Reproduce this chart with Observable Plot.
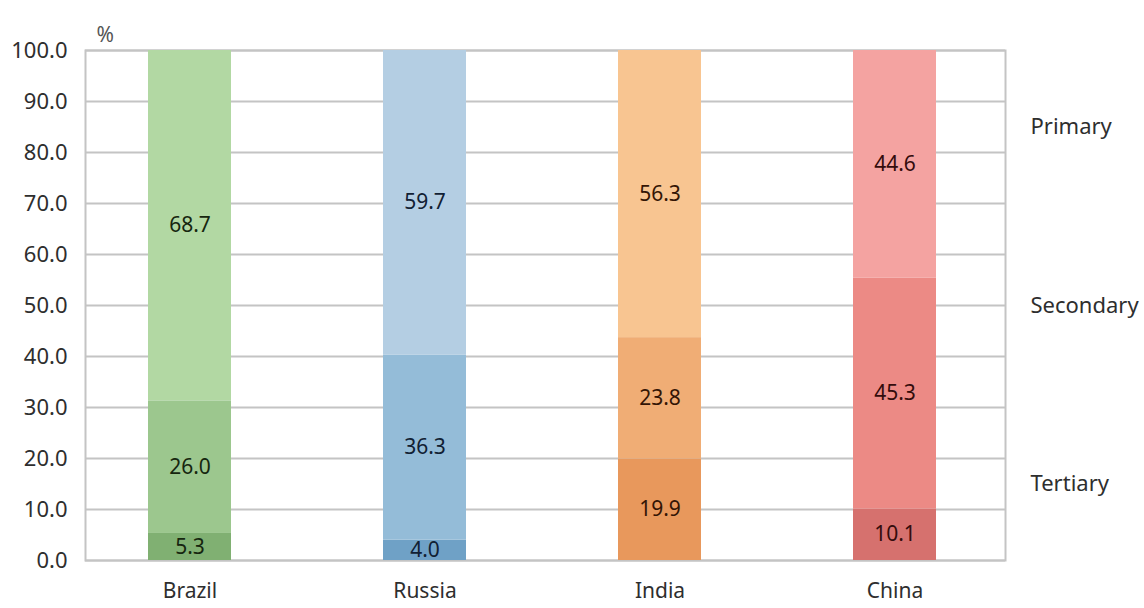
<!DOCTYPE html>
<html>
<head>
<meta charset="utf-8">
<script src="https://cdn.jsdelivr.net/npm/d3@7"></script>
<script src="https://cdn.jsdelivr.net/npm/@observablehq/plot@0.6"></script>
<style>
  html, body { margin: 0; padding: 0; background: #fff; }
  #chart { width: 1144px; height: 608px; }
</style>
</head>
<body>
<div id="chart"></div>
<script>
// Data (bottom segment first)
const countries = ["Brazil", "Russia", "India", "China"];
const tertiary  = [5.3, 4.0, 19.9, 10.1];   // bottom segment
const secondary = [26.0, 36.3, 23.8, 45.3]; // middle segment
const primary   = [68.7, 59.7, 56.3, 44.6]; // top segment
const sectors = ["Tertiary", "Secondary", "Primary"];
const yTicks = [0, 10, 20, 30, 40, 50, 60, 70, 80, 90, 100];

// Colours per country: [bottom, middle, top], and label text colours
const fills = {
  Brazil: ["#80b072", "#9cc78e", "#b2d8a3"],
  Russia: ["#6fa1c6", "#94bcd8", "#b4cee3"],
  India:  ["#e8985c", "#f0ad75", "#f8c591"],
  China:  ["#d6716e", "#ec8a85", "#f4a3a1"]
};
const textColors = {Brazil: "#16260f", Russia: "#112033", India: "#331505", China: "#330c0c"};

const rows = [];
countries.forEach((c, i) => {
  [tertiary[i], secondary[i], primary[i]].forEach((v, k) => {
    rows.push({country: c, sector: sectors[k], value: v, fill: fills[c][k], ink: textColors[c]});
  });
});

// Right-side legend labels (y in data units)
const legendLabels = ["Primary", "Secondary", "Tertiary"];
const legendY = [85, 50, 15];
const legend = legendLabels.map((t, i) => ({t, y: legendY[i]}));

const font = "'Noto Sans', 'Open Sans', sans-serif";

const chart = Plot.plot({
  width: 1144,
  height: 608,
  marginTop: 50,
  marginBottom: 48,
  marginLeft: 85,
  marginRight: 139,
  style: {fontFamily: font, fontSize: "20px", color: "#2e2e2e", background: "#fff"},
  x: {domain: countries, paddingInner: 0.648, paddingOuter: 0.2756, align: 0.477},
  y: {domain: [0, 100]},
  marks: [
    Plot.ruleY(yTicks, {stroke: "#c4c4c4", strokeWidth: 2}),
    Plot.frame({stroke: "#c4c4c4", strokeWidth: 2}),
    Plot.barY(rows, {x: "country", y: "value", fill: "fill"}),
    Plot.axisY({ticks: yTicks, tickFormat: d3.format(".1f"), label: null, tickSize: 0, tickPadding: 18, fontSize: 22, fill: "#2e2e2e"}),
    Plot.axisX({label: null, tickSize: 0, tickPadding: 23, fontSize: 21, fill: "#2e2e2e"}),
    Plot.text(rows, Plot.stackY({x: "country", y: "value", text: d => d.value.toFixed(1), fill: "ink", fontSize: 21})),
    Plot.text(legend, {y: "y", text: "t", frameAnchor: "right", textAnchor: "start", dx: 25, fill: "#2e2e2e", fontSize: 22}),
    Plot.text(["%"], {text: d => d, frameAnchor: "top-left", dx: 11, dy: -23, fill: "#555", fontSize: 21})
  ]
});
document.getElementById("chart").append(chart);
</script>
</body>
</html>
